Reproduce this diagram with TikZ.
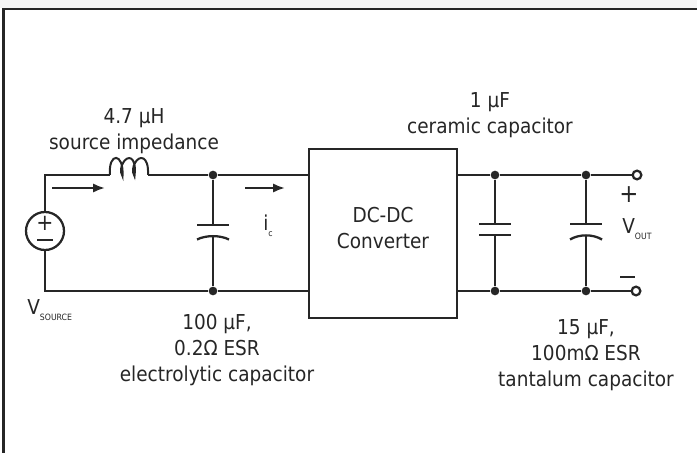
\documentclass[tikz,border=0pt]{standalone}
\usepackage{fontspec}
\setmainfont[FakeStretch=.9]{DejaVu Sans}
\usepackage{xcolor}
\usetikzlibrary{positioning,arrows.meta}
\definecolor{ink}{HTML}{262626}
\newcommand{\lowtxt}[1]{\raisebox{-.55ex}{\fontsize{6.5}{7}\selectfont #1}}
\tikzset{
  wire/.style={draw=ink,line width=1.7pt},
  flow/.style={wire,-{Latex[length=9pt,width=7pt]}},
  dot/.style={circle,fill=ink,inner sep=0pt,minimum size=6.5pt},
  term/.style={circle,draw=ink,fill=white,line width=1.7pt,inner sep=0pt,minimum size=6.5pt},
  lab/.style={text=ink,align=center,font=\fontsize{15.4}{19.5}\selectfont},
  sym/.style={lab,anchor=west,inner sep=0pt},
}
\begin{document}
\begin{tikzpicture}[x=.75pt,y=-.75pt]
\useasboundingbox (0,0) rectangle (697,453);
\fill[black!4] (0,0) rectangle (697,8);
\draw[ink,line width=2.2pt] (3.5,453) -- (3.5,9) -- (697,9);
  % corners of the wiring
  \coordinate (lt) at (45,175);
  \coordinate (lb) at (45,291);
  \coordinate (coilin) at (110,175);
  \coordinate (coilout) at (148,175);
  \node[dot] (n1) at (213,175) {};
  \node[dot] (n2) at (213,291) {};
  \node[dot] (n3) at (495,175) {};
  \node[dot] (n4) at (495,291) {};
  \node[dot] (n5) at (586,175) {};
  \node[dot] (n6) at (586,291) {};
  \node[term] (outp) at (637,175) {};
  \node[term] (outm) at (636,291) {};
  \node[draw=ink,line width=1.7pt,minimum width=111pt,minimum height=126.75pt] (conv) at (383,233.5) {};
  \node[lab] (lconv) at (383,228.5) {DC-DC\\Converter};
  \node[circle,draw=ink,line width=1.7pt,inner sep=0pt,minimum size=28.5pt] (src) at (45,231) {};
  % wires
  \draw[wire] (src.north) -- (lt) -- (coilin);
  \draw[wire] (src.south) -- (lb) -- (n2) -- (conv.west |- n2);
  \draw[wire] (coilout) -- (n1) -- (conv.west |- n1);
  \draw[wire] (conv.east |- n3) -- (n3) -- (n5) -- (outp);
  \draw[wire] (conv.east |- n4) -- (n4) -- (n6) -- (outm);
  % coil
  \draw[wire,line width=1.5pt] (coilin) .. controls (108,152) and (124,152) .. (122.5,176)
     .. controls (120,172) and (121,166) .. (123,163)
     .. controls (127,155) and (137,155) .. (134.5,176)
     .. controls (132,172) and (133,166) .. (135,163)
     .. controls (139,155) and (149,155) .. (coilout);
  % capacitors
  \coordinate (c1a) at (213,225);
  \coordinate (c1b) at (213,236);
  \coordinate (c2a) at (495,224);
  \coordinate (c2b) at (495,235);
  \coordinate (c3a) at (586,224);
  \coordinate (c3b) at (586,235);
  \draw[wire] (n1) -- (c1a) (c1b) -- (n2);
  \draw[wire] (n3) -- (c2a) (c2b) -- (n4);
  \draw[wire] (n5) -- (c3a) (c3b) -- (n6);
  \draw[wire] ([xshift=-12pt]c1a) -- ([xshift=12pt]c1a);
  \draw[wire] ([xshift=-12pt]c2a) -- ([xshift=12pt]c2a);
  \draw[wire] ([xshift=-12pt]c2b) -- ([xshift=12pt]c2b);
  \draw[wire] ([xshift=-12pt]c3a) -- ([xshift=12pt]c3a);
  \draw[wire] (197,239.5) .. controls (206,235) and (220,235) .. (229,239.5);
  \draw[wire] (570,239.5) .. controls (579,234) and (593,234) .. (602,239.5);
  % source signs
  \node[ink,font=\fontsize{17}{17}\selectfont] (plus) at (45,223.5) {+};
  \coordinate (ma) at (37,240);
  \coordinate (mb) at (53,240);
  \draw[wire] (ma) -- (mb);
  % current arrows
  \coordinate (a1) at (52,188);
  \coordinate (a2) at (105,188);
  \coordinate (a3) at (245,188);
  \coordinate (a4) at (285,188);
  \draw[flow] (a1) -- (a2);
  \draw[flow] (a3) -- (a4);
  % labels
  \node[lab] (lcoil) at (134,131) {4.7 µH\\source impedance};
  \node[lab] (lc1) at (217,350) {100 µF,\\0.2Ω ESR\\electrolytic capacitor};
  \node[lab] (lc2) at (490,115) {1 µF\\ceramic capacitor};
  \node[lab] (lc3) at (586,355) {15 µF,\\100mΩ ESR\\tantalum capacitor};
  \node[sym] (lsrc) at (27,310) {V\lowtxt{SOURCE}};
  \node[sym] (lic) at (263,226) {i\lowtxt{c}};
  \node[sym] (lout) at (622,229) {V\lowtxt{OUT}};
  \node[ink,font=\fontsize{19}{19}\selectfont] (oplus) at (629,195) {+};
  \coordinate (oa) at (620,277);
  \coordinate (ob) at (635,277);
  \draw[wire,line width=1.2pt] (oa) -- (ob);
\end{tikzpicture}
\end{document}
